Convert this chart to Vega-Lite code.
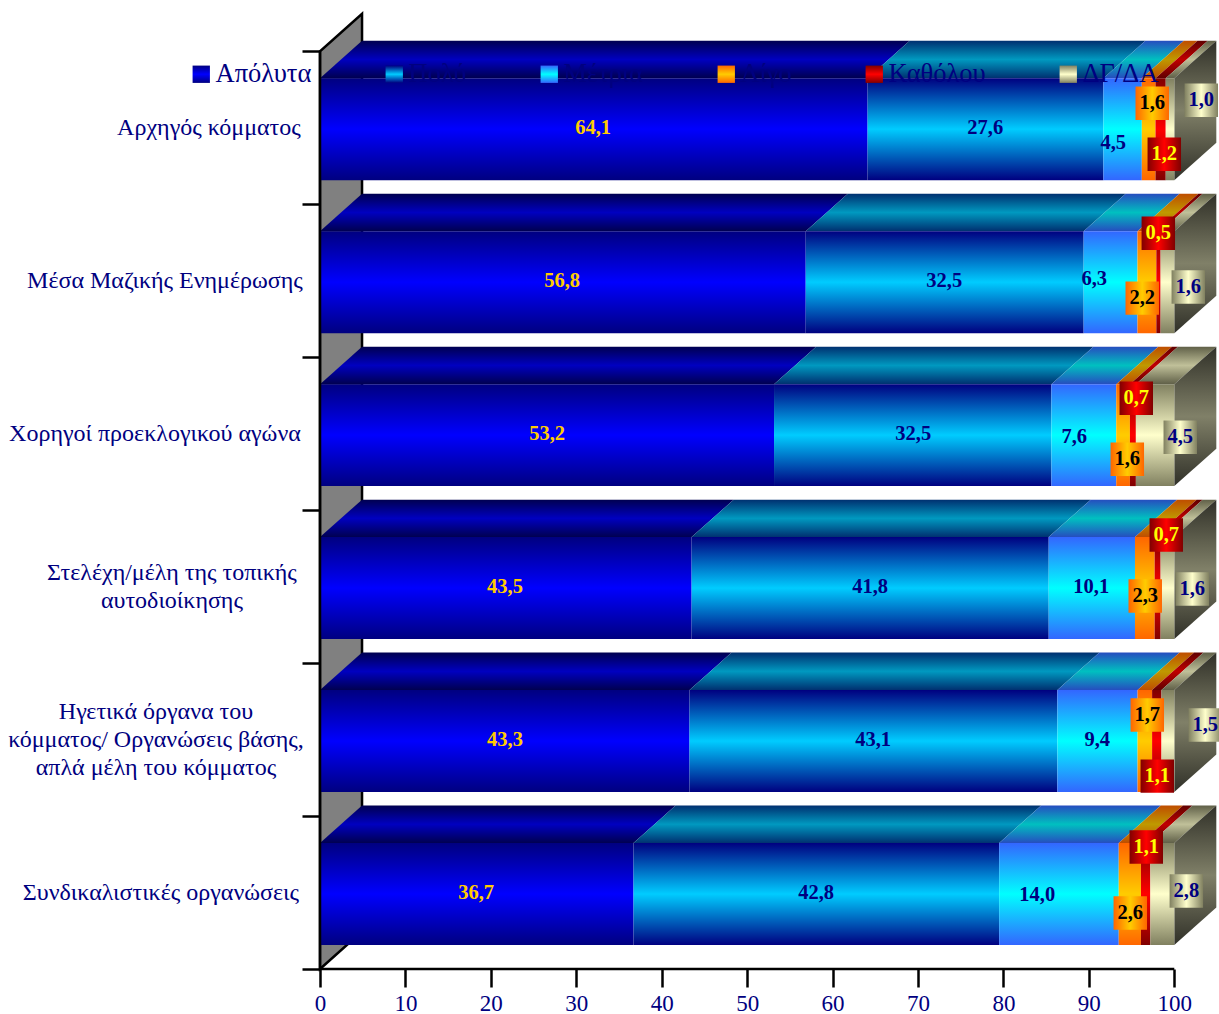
{
"$schema":"https://vega.github.io/schema/vega-lite/v6.json",
"autosize":{"type":"none"},
"padding":{"left":320,"top":13,"right":2,"bottom":45},
"width":897,"height":956,
"background":"white",
"config":{"view":{"stroke":null}},
"params":[{"name":"legendFill","value":[
   {"gradient":"linear","x1":0,"y1":0,"x2":0,"y2":1,"stops":[{"offset":0,"color":"#000080"},{"offset":0.5,"color":"#0000ff"},{"offset":1,"color":"#000080"}]},
   {"gradient":"linear","x1":0,"y1":0,"x2":0,"y2":1,"stops":[{"offset":0,"color":"#000080"},{"offset":0.5,"color":"#00ccff"},{"offset":1,"color":"#000080"}]},
   {"gradient":"linear","x1":0,"y1":0,"x2":0,"y2":1,"stops":[{"offset":0,"color":"#3366ff"},{"offset":0.5,"color":"#00ffff"},{"offset":1,"color":"#3366ff"}]},
   {"gradient":"linear","x1":0,"y1":0,"x2":0,"y2":1,"stops":[{"offset":0,"color":"#ff6600"},{"offset":0.5,"color":"#ffcc00"},{"offset":1,"color":"#ff6600"}]},
   {"gradient":"linear","x1":0,"y1":0,"x2":0,"y2":1,"stops":[{"offset":0,"color":"#800000"},{"offset":0.5,"color":"#ff0000"},{"offset":1,"color":"#800000"}]},
   {"gradient":"linear","x1":0,"y1":0,"x2":0,"y2":1,"stops":[{"offset":0,"color":"#808060"},{"offset":0.5,"color":"#ffffcc"},{"offset":1,"color":"#808060"}]}
]}],
"datasets":{"survey":[
{"category":"Αρχηγός κόμματος","response":"Απόλυτα","value":64.1},{"category":"Αρχηγός κόμματος","response":"Πολύ","value":27.6},{"category":"Αρχηγός κόμματος","response":"Μέτρια","value":4.5},{"category":"Αρχηγός κόμματος","response":"Λίγο","value":1.6},{"category":"Αρχηγός κόμματος","response":"Καθόλου","value":1.2},{"category":"Αρχηγός κόμματος","response":"ΔΓ/ΔΑ","value":1.0},
{"category":"Μέσα Μαζικής Ενημέρωσης","response":"Απόλυτα","value":56.8},{"category":"Μέσα Μαζικής Ενημέρωσης","response":"Πολύ","value":32.5},{"category":"Μέσα Μαζικής Ενημέρωσης","response":"Μέτρια","value":6.3},{"category":"Μέσα Μαζικής Ενημέρωσης","response":"Λίγο","value":2.2},{"category":"Μέσα Μαζικής Ενημέρωσης","response":"Καθόλου","value":0.5},{"category":"Μέσα Μαζικής Ενημέρωσης","response":"ΔΓ/ΔΑ","value":1.6},
{"category":"Χορηγοί προεκλογικού αγώνα","response":"Απόλυτα","value":53.2},{"category":"Χορηγοί προεκλογικού αγώνα","response":"Πολύ","value":32.5},{"category":"Χορηγοί προεκλογικού αγώνα","response":"Μέτρια","value":7.6},{"category":"Χορηγοί προεκλογικού αγώνα","response":"Λίγο","value":1.6},{"category":"Χορηγοί προεκλογικού αγώνα","response":"Καθόλου","value":0.7},{"category":"Χορηγοί προεκλογικού αγώνα","response":"ΔΓ/ΔΑ","value":4.5},
{"category":"Στελέχη/μέλη της τοπικής\nαυτοδιοίκησης","response":"Απόλυτα","value":43.5},{"category":"Στελέχη/μέλη της τοπικής\nαυτοδιοίκησης","response":"Πολύ","value":41.8},{"category":"Στελέχη/μέλη της τοπικής\nαυτοδιοίκησης","response":"Μέτρια","value":10.1},{"category":"Στελέχη/μέλη της τοπικής\nαυτοδιοίκησης","response":"Λίγο","value":2.3},{"category":"Στελέχη/μέλη της τοπικής\nαυτοδιοίκησης","response":"Καθόλου","value":0.7},{"category":"Στελέχη/μέλη της τοπικής\nαυτοδιοίκησης","response":"ΔΓ/ΔΑ","value":1.6},
{"category":"Ηγετικά όργανα του\nκόμματος/ Οργανώσεις βάσης,\nαπλά μέλη του κόμματος","response":"Απόλυτα","value":43.3},{"category":"Ηγετικά όργανα του\nκόμματος/ Οργανώσεις βάσης,\nαπλά μέλη του κόμματος","response":"Πολύ","value":43.1},{"category":"Ηγετικά όργανα του\nκόμματος/ Οργανώσεις βάσης,\nαπλά μέλη του κόμματος","response":"Μέτρια","value":9.4},{"category":"Ηγετικά όργανα του\nκόμματος/ Οργανώσεις βάσης,\nαπλά μέλη του κόμματος","response":"Λίγο","value":1.7},{"category":"Ηγετικά όργανα του\nκόμματος/ Οργανώσεις βάσης,\nαπλά μέλη του κόμματος","response":"Καθόλου","value":1.1},{"category":"Ηγετικά όργανα του\nκόμματος/ Οργανώσεις βάσης,\nαπλά μέλη του κόμματος","response":"ΔΓ/ΔΑ","value":1.5},
{"category":"Συνδικαλιστικές οργανώσεις","response":"Απόλυτα","value":36.7},{"category":"Συνδικαλιστικές οργανώσεις","response":"Πολύ","value":42.8},{"category":"Συνδικαλιστικές οργανώσεις","response":"Μέτρια","value":14.0},{"category":"Συνδικαλιστικές οργανώσεις","response":"Λίγο","value":2.6},{"category":"Συνδικαλιστικές οργανώσεις","response":"Καθόλου","value":1.1},{"category":"Συνδικαλιστικές οργανώσεις","response":"ΔΓ/ΔΑ","value":2.8}
],"frame":[{"d":0},{"d":1}]},
"resolve":{"scale":{"color":"independent"}},
"layer":[
{"data":{"name":"frame"},
 "transform":[{"calculate":"datum.d*4.92","as":"fx"},{"calculate":"datum.d*0.245","as":"fy0"},{"calculate":"6+datum.d*0.245","as":"fy1"}],
 "mark":{"type":"area","orient":"vertical","fill":"#808080","stroke":"black","strokeWidth":2.5},
 "encoding":{
  "x":{"field":"fx","type":"quantitative","title":null,"scale":{"domain":[0,105],"nice":false,"zero":false},
    "axis":{"values":[0,10,20,30,40,50,60,70,80,90,100],"domain":false,"grid":false,"tickSize":18,"tickWidth":2.5,"tickColor":"black","labelFont":"Liberation Serif","labelFontSize":23,"labelColor":"#000080","labelPadding":5,"labelBaseline":"top","labelFlush":false,"labelOverlap":false}},
  "y":{"field":"fy0","type":"quantitative","title":null,"scale":{"domain":[0,6.25],"nice":false,"zero":false},
    "axis":{"values":[0,1,2,3,4,5,6],"domain":false,"grid":false,"labels":false,"tickSize":18,"tickWidth":2.5,"tickColor":"black"}},
  "y2":{"field":"fy1"}
 }},
{"data":{"name":"survey"},
 "transform":[
  {"window":[{"op":"row_number","as":"n"}]},
  {"calculate":"5-floor((datum.n-1)/6)","as":"row"},
  {"stack":"value","groupby":["category"],"sort":[{"field":"n","order":"ascending"}],"offset":"normalize","as":["s0","s1"]},
  {"calculate":"[0,1]","as":"d"},{"flatten":["d"]},
  {"calculate":"datum.s0*100+datum.d*4.92","as":"fx0"},
  {"calculate":"datum.s1*100+datum.d*4.92","as":"fx1"},
  {"calculate":"datum.row+0.8235+datum.d*0.245","as":"fy"}
 ],
 "mark":{"type":"area","orient":"horizontal"},
 "encoding":{
  "y":{"field":"fy","type":"quantitative"},
  "x":{"field":"fx0","type":"quantitative"},
  "x2":{"field":"fx1"},
  "detail":{"field":"n"},
  "color":{"condition":[
   {"test":"datum.response==='Απόλυτα'","value":{"gradient":"linear","x1":0,"y1":0,"x2":0,"y2":1,"stops":[{"offset":0,"color":"#000050"},{"offset":0.5,"color":"#0000c0"},{"offset":1,"color":"#000050"}]}},
   {"test":"datum.response==='Πολύ'","value":{"gradient":"linear","x1":0,"y1":0,"x2":0,"y2":1,"stops":[{"offset":0,"color":"#003070"},{"offset":0.5,"color":"#0099c0"},{"offset":1,"color":"#003070"}]}},
   {"test":"datum.response==='Μέτρια'","value":{"gradient":"linear","x1":0,"y1":0,"x2":0,"y2":1,"stops":[{"offset":0,"color":"#264dbf"},{"offset":0.5,"color":"#00c0c0"},{"offset":1,"color":"#264dbf"}]}},
   {"test":"datum.response==='Λίγο'","value":{"gradient":"linear","x1":0,"y1":0,"x2":0,"y2":1,"stops":[{"offset":0,"color":"#bf4d00"},{"offset":0.5,"color":"#bf9900"},{"offset":1,"color":"#bf4d00"}]}},
   {"test":"datum.response==='Καθόλου'","value":{"gradient":"linear","x1":0,"y1":0,"x2":0,"y2":1,"stops":[{"offset":0,"color":"#600000"},{"offset":0.5,"color":"#c00000"},{"offset":1,"color":"#600000"}]}}
  ],"value":{"gradient":"linear","x1":0,"y1":0,"x2":0,"y2":1,"stops":[{"offset":0,"color":"#606048"},{"offset":0.5,"color":"#c0c099"},{"offset":1,"color":"#606048"}]}}
 }},
{"data":{"name":"survey"},
 "transform":[
  {"window":[{"op":"row_number","as":"n"}]},
  {"calculate":"5-floor((datum.n-1)/6)","as":"row"},
  {"filter":"datum.response==='ΔΓ/ΔΑ'"},
  {"calculate":"[0,1]","as":"d"},{"flatten":["d"]},
  {"calculate":"100+datum.d*4.92","as":"fx"},
  {"calculate":"datum.row+0.157+datum.d*0.245","as":"fy0"},
  {"calculate":"datum.row+0.8235+datum.d*0.245","as":"fy1"}
 ],
 "mark":{"type":"area","orient":"vertical","color":{"gradient":"linear","x1":0,"y1":0,"x2":0,"y2":1,"stops":[{"offset":0,"color":"#303028"},{"offset":0.5,"color":"#808068"},{"offset":1,"color":"#303028"}]}},
 "encoding":{
  "x":{"field":"fx","type":"quantitative"},
  "y":{"field":"fy0","type":"quantitative"},
  "y2":{"field":"fy1"},
  "detail":{"field":"n"}
 }},
{"data":{"name":"survey"},
 "transform":[
  {"window":[{"op":"row_number","as":"n"}]},
  {"calculate":"5-floor((datum.n-1)/6)","as":"row"},
  {"stack":"value","groupby":["category"],"sort":[{"field":"n","order":"ascending"}],"offset":"normalize","as":["s0","s1"]},
  {"calculate":"datum.s0*100","as":"x0"},{"calculate":"datum.s1*100","as":"x1"},
  {"calculate":"datum.row+0.157","as":"yb"},{"calculate":"datum.row+0.8235","as":"yt"}
 ],
 "mark":{"type":"rect"},
 "encoding":{
  "x":{"field":"x0","type":"quantitative"},"x2":{"field":"x1"},
  "y":{"field":"yb","type":"quantitative"},"y2":{"field":"yt"},
  "color":{"condition":[
   {"test":"datum.response==='Απόλυτα'","value":{"gradient":"linear","x1":0,"y1":0,"x2":0,"y2":1,"stops":[{"offset":0,"color":"#000080"},{"offset":0.5,"color":"#0000ff"},{"offset":1,"color":"#000080"}]}},
   {"test":"datum.response==='Πολύ'","value":{"gradient":"linear","x1":0,"y1":0,"x2":0,"y2":1,"stops":[{"offset":0,"color":"#000080"},{"offset":0.5,"color":"#00ccff"},{"offset":1,"color":"#000080"}]}},
   {"test":"datum.response==='Μέτρια'","value":{"gradient":"linear","x1":0,"y1":0,"x2":0,"y2":1,"stops":[{"offset":0,"color":"#3366ff"},{"offset":0.5,"color":"#00ffff"},{"offset":1,"color":"#3366ff"}]}},
   {"test":"datum.response==='Λίγο'","value":{"gradient":"linear","x1":0,"y1":0,"x2":0,"y2":1,"stops":[{"offset":0,"color":"#ff6600"},{"offset":0.5,"color":"#ffcc00"},{"offset":1,"color":"#ff6600"}]}},
   {"test":"datum.response==='Καθόλου'","value":{"gradient":"linear","x1":0,"y1":0,"x2":0,"y2":1,"stops":[{"offset":0,"color":"#800000"},{"offset":0.5,"color":"#ff0000"},{"offset":1,"color":"#800000"}]}}
  ],"value":{"gradient":"linear","x1":0,"y1":0,"x2":0,"y2":1,"stops":[{"offset":0,"color":"#808060"},{"offset":0.5,"color":"#ffffcc"},{"offset":1,"color":"#808060"}]}}
 }},
{"data":{"values":[{}]},
 "mark":{"type":"rule","color":"black","strokeWidth":2.5},
 "encoding":{"x":{"datum":0,"type":"quantitative"},"y":{"datum":0,"type":"quantitative"},"y2":{"datum":6}}},
{"data":{"values":[{}]},
 "mark":{"type":"rule","color":"black","strokeWidth":2.5},
 "encoding":{"y":{"datum":0,"type":"quantitative"},"x":{"datum":0,"type":"quantitative"},"x2":{"datum":100}}},
{"data":{"name":"survey"},
 "transform":[
  {"window":[{"op":"row_number","as":"n"}]},
  {"calculate":"[31.97,77.87,92.86,97.42,98.83,103.16,28.34,73.07,90.63,96.25,98.13,101.64,26.58,69.44,88.29,94.5,95.55,100.7,21.66,64.4,90.28,96.6,99.06,102.11,21.66,64.75,90.98,96.84,98.01,103.63,18.27,58.08,83.96,94.85,96.72,101.41][datum.n-1]","as":"lx"},
  {"calculate":"[5.497,5.497,5.399,5.66,5.327,5.68,4.497,4.497,4.51,4.386,4.81,4.458,3.497,3.497,3.477,3.333,3.732,3.477,2.497,2.497,2.497,2.438,2.837,2.484,1.497,1.497,1.497,1.66,1.261,1.595,0.497,0.497,0.484,0.366,0.797,0.51][datum.n-1]","as":"ly"},
  {"filter":"indexof(['Λίγο','Καθόλου','ΔΓ/ΔΑ'],datum.response)>=0"}
 ],
 "mark":{"type":"point","shape":"square","filled":true,"size":1120,"opacity":1,"strokeWidth":0},
 "encoding":{
  "x":{"field":"lx","type":"quantitative"},"y":{"field":"ly","type":"quantitative"},
  "color":{"condition":[
   {"test":"datum.response==='Λίγο'","value":{"gradient":"linear","x1":0,"y1":0,"x2":1,"y2":0,"stops":[{"offset":0,"color":"#ff6600"},{"offset":0.5,"color":"#ffcc00"},{"offset":1,"color":"#ff6600"}]}},
   {"test":"datum.response==='Καθόλου'","value":{"gradient":"linear","x1":0,"y1":0,"x2":1,"y2":0,"stops":[{"offset":0,"color":"#800000"},{"offset":0.5,"color":"#ff0000"},{"offset":1,"color":"#800000"}]}}
  ],"value":{"gradient":"linear","x1":0,"y1":0,"x2":1,"y2":0,"stops":[{"offset":0,"color":"#808060"},{"offset":0.5,"color":"#ffffcc"},{"offset":1,"color":"#808060"}]}}
 }},
{"data":{"name":"survey"},
 "transform":[
  {"window":[{"op":"row_number","as":"n"}]},
  {"calculate":"[31.97,77.87,92.86,97.42,98.83,103.16,28.34,73.07,90.63,96.25,98.13,101.64,26.58,69.44,88.29,94.5,95.55,100.7,21.66,64.4,90.28,96.6,99.06,102.11,21.66,64.75,90.98,96.84,98.01,103.63,18.27,58.08,83.96,94.85,96.72,101.41][datum.n-1]","as":"lx"},
  {"calculate":"[5.497,5.497,5.399,5.66,5.327,5.68,4.497,4.497,4.51,4.386,4.81,4.458,3.497,3.497,3.477,3.333,3.732,3.477,2.497,2.497,2.497,2.438,2.837,2.484,1.497,1.497,1.497,1.66,1.261,1.595,0.497,0.497,0.484,0.366,0.797,0.51][datum.n-1]","as":"ly"},
  {"calculate":"replace(format(datum.value,'.1f'),'.',',')","as":"label"}
 ],
 "mark":{"type":"text","font":"Liberation Serif","fontWeight":"bold","fontSize":20.5,"align":"center","baseline":"middle"},
 "encoding":{
  "x":{"field":"lx","type":"quantitative"},"y":{"field":"ly","type":"quantitative"},
  "text":{"field":"label"},
  "color":{"field":"response","type":"nominal","legend":null,"scale":{"domain":["Απόλυτα","Πολύ","Μέτρια","Λίγο","Καθόλου","ΔΓ/ΔΑ"],"range":["#ffcc00","#000080","#000080","#000000","#ffff00","#000080"]}}
 }},
{"data":{"name":"survey"},
 "transform":[
  {"window":[{"op":"row_number","as":"n"}]},
  {"filter":"datum.response==='Απόλυτα'"},
  {"calculate":"5-floor((datum.n-1)/6)+0.497+(length(split(datum.category,'\\n'))-1)*0.0915","as":"cy"},
  {"calculate":"[-13.0,-18.15,-19.32,-17.33,-19.2,-18.62][floor((datum.n-1)/6)]","as":"cx"}
 ],
 "mark":{"type":"text","font":"Liberation Serif","fontSize":24,"color":"#000080","align":"center","baseline":"middle","lineBreak":"\n","lineHeight":28},
 "encoding":{
  "x":{"field":"cx","type":"quantitative"},"y":{"field":"cy","type":"quantitative"},
  "text":{"field":"category"}
 }},
{"data":{"name":"survey"},
 "mark":{"type":"point","filled":false,"size":0,"opacity":0},
 "encoding":{
  "x":{"datum":0,"type":"quantitative"},"y":{"datum":0,"type":"quantitative"},
  "color":{"field":"response","type":"nominal",
   "scale":{"domain":["Απόλυτα","Πολύ","Μέτρια","Λίγο","Καθόλου","ΔΓ/ΔΑ"],"range":["#0000ff","#00ccff","#00ffff","#ffcc00","#ff0000","#ffffcc"]},
   "legend":{"title":null,"orient":"none","legendX":-132,"legendY":48,"direction":"horizontal","columns":6,"columnPadding":69,"gridAlign":"none","symbolType":"square","symbolSize":300,"symbolOpacity":1,"symbolStrokeWidth":0,"labelFont":"Liberation Serif","labelFontSize":26.5,"labelColor":"#000080","labelOffset":1,"padding":0,
    "encoding":{"symbols":{"fill":{"value":{"expr":"legendFill[indexof(['Απόλυτα','Πολύ','Μέτρια','Λίγο','Καθόλου','ΔΓ/ΔΑ'],datum.value)]"}},"opacity":{"value":1}}}}}
 }}
]
}
